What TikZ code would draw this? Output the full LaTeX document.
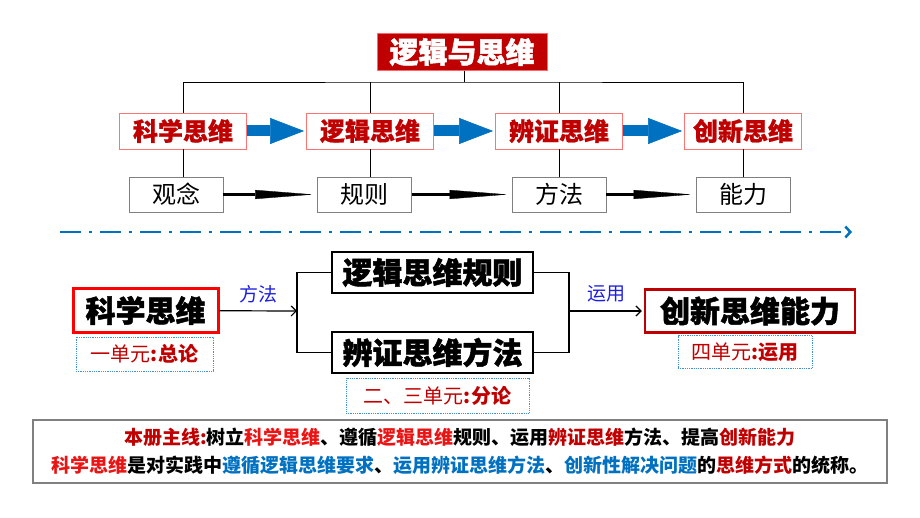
\documentclass[tikz,border=0pt]{standalone}
\usepackage{fontspec}
\setmainfont{Noto Sans CJK SC}
\newfontfamily\heavyfont[BoldFeatures={FakeBold=1.6}]{Noto Sans CJK SC}
\newfontfamily\semifont[BoldFeatures={FakeBold=0.8}]{Noto Sans CJK SC}
\usepackage{xcolor}
\usetikzlibrary{arrows.meta}

\definecolor{darkred}{RGB}{192,0,0}
\definecolor{brightred}{RGB}{235,20,20}
\definecolor{lineblue}{RGB}{0,112,192}
\definecolor{labelblue}{RGB}{30,30,225}
\definecolor{boxgray}{RGB}{128,128,128}

\begin{document}
\begin{tikzpicture}[x=1pt, y=-1pt,
    topbox/.style={draw=red!55, line width=0.8pt, fill=white, minimum width=127pt, minimum height=36pt, inner sep=0pt, text=darkred, font=\fontsize{25}{25}\semifont\bfseries},
    subbox/.style={draw=boxgray, line width=0.8pt, fill=white, minimum width=94pt, minimum height=35pt, inner sep=0pt, font=\fontsize{24}{24}\selectfont},
    bigbox/.style={draw, line width=2pt, fill=white, inner sep=0pt, font=\fontsize{30}{30}\heavyfont\bfseries},
    unitbox/.style={draw=lineblue!75, densely dotted, line width=0.8pt, inner sep=0pt, text=darkred, font=\fontsize{20}{20}\selectfont},
    blockarrow/.style={draw=lineblue, line width=11pt, -{Triangle[length=34pt, width=26pt, line width=0.5pt]}},
    thinarrow/.style={line width=3.5pt, -{Triangle[length=58pt, width=9pt, line width=0.3pt]}, shorten >=4pt},
    label/.style={text=labelblue, font=\fontsize{19}{19}\selectfont},
    conn/.style={line width=0.8pt}
]
\useasboundingbox (0,0) rectangle (920,518);

% top: tree
\node[fill=darkred, draw=red!60, minimum width=170pt, minimum height=37pt, inner sep=0pt, text=white, font=\fontsize{29}{29}\heavyfont\bfseries] (title) at (462,52) {逻辑与思维};
\coordinate (hub) at (464,82);

\node[topbox] (s1) at (183,131) {科学思维};
\node[topbox] (s2) at (370,131) {逻辑思维};
\node[topbox] (s3) at (559,131) {辨证思维};
\node[topbox, minimum width=117pt] (s4) at (743,131) {创新思维};

\node[subbox] (b1) at (176,194.5) {观念};
\node[subbox] (b2) at (364.5,194.5) {规则};
\node[subbox] (b3) at (559,194.5) {方法};
\node[subbox] (b4) at (743,194.5) {能力};

\draw[conn] (title.south -| hub) -- (hub);
\draw[conn] (s1) |- (hub) -| (s4);
\foreach \i in {2,3}
    \draw[conn] (s\i) -- (s\i |- hub);
\foreach \i in {1,...,4}
    \draw[conn] (s\i.south) -- (s\i.south |- b\i.north);

\foreach \i/\j in {1/2,2/3,3/4} {
    \draw[blockarrow, shorten >=2pt] (s\i) -- (s\j);
    \draw[thinarrow] (b\i) -- (b\j);
}

% dash-dot divider
\coordinate (dl) at (60,232);
\coordinate (dr) at (852,232);
\draw[lineblue, line width=2.5pt, dash pattern=on 21pt off 8pt on 3pt off 8pt, -{Straight Barb[length=5pt, width=11pt, line width=2.5pt]}] (dl) -- (dr);

% lower part
\node[bigbox, draw=red, line width=3pt, minimum width=145pt, minimum height=43pt] (kx) at (145.5,310.5) {科学思维};
\node[unitbox, minimum width=137pt, minimum height=34pt] (u1) at (144.5,354) {一单元{\bfseries :总论}};

\node[bigbox, minimum width=201pt, minimum height=41pt] (gz) at (432.5,272.5) {逻辑思维规则};
\node[bigbox, minimum width=201pt, minimum height=41pt] (bz) at (432.5,352.5) {辨证思维方法};
\node[unitbox, minimum width=183pt, minimum height=35pt] (u23) at (437.5,395.5) {二、三单元{\bfseries :分论}};

\node[bigbox, draw=darkred, line width=2.5pt, minimum width=210pt, minimum height=43pt] (cx) at (750,311) {创新思维能力};
\node[unitbox, minimum width=134pt, minimum height=33pt] (u4) at (745,352) {四单元{\bfseries :运用}};

\coordinate (lj) at (297,311);
\coordinate (rj) at (569,311);

\draw[conn, line width=1.5pt] (gz.west) -| (lj) |- (bz.west);
\draw[conn, line width=1.5pt] (gz.east) -| (rj) |- (bz.east);
\draw[conn, line width=1.2pt, -{Straight Barb[length=5pt, width=10pt]}] (kx) -- (lj) node[label, midway, above=4pt] {方法};
\draw[conn, line width=1.2pt, -{Straight Barb[length=5pt, width=10pt]}, shorten >=2pt] (rj) -- (cx) node[label, midway, above=5pt] {运用};

% summary
\node[draw=boxgray, line width=1.2pt, minimum width=854pt, minimum height=63pt, align=center, inner sep=0pt, font=\fontsize{19}{28}\selectfont\bfseries] (note) at (460,451.5) {%
    {\color{darkred}本册主线:}树立{\color{brightred}科学思维}、遵循{\color{brightred}逻辑思维}规则、运用{\color{darkred}辨证思维}方法、提高{\color{darkred}创新能力}\\
    {\color{brightred}科学思维}是对实践中{\color{lineblue}遵循逻辑思维要求}、{\color{lineblue}运用辨证思维方法}、{\color{lineblue}创新性解决问题}的{\color{darkred}思维方式}的统称。};
\end{tikzpicture}
\end{document}
